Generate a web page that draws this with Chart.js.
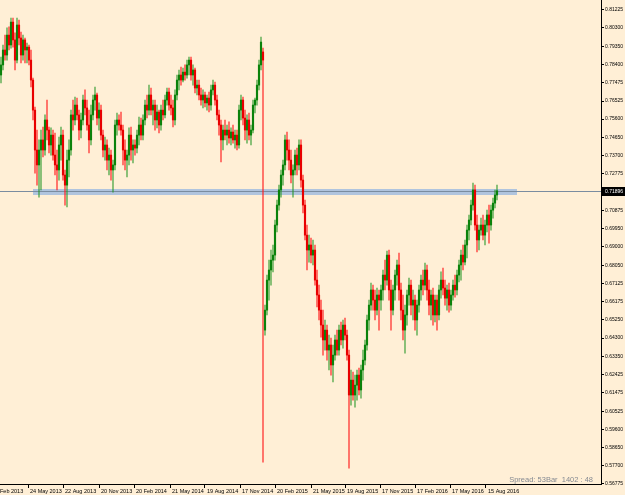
<!DOCTYPE html>
<html>
<head>
<meta charset="utf-8">
<script src="https://cdn.jsdelivr.net/npm/chart.js@4.4.1/dist/chart.umd.min.js"></script>
<style>
  html, body { margin: 0; padding: 0; background: #ffefd6; overflow: hidden; }
  canvas { display: block; }
</style>
</head>
<body>
<canvas id="myChart" width="625" height="495"></canvas>
<script>
"use strict";

// daily candles (oldest first)
const opens = [
  0.7787,0.7839,0.7916,0.7890,0.7993,0.7942,0.8060,0.7968,0.7864,0.8045,
  0.7978,0.7890,0.7968,0.7916,0.7931,0.7864,0.7761,0.7606,0.7400,0.7323,
  0.7400,0.7452,0.7400,0.7555,0.7503,0.7426,0.7477,0.7374,0.7323,0.7297,
  0.7426,0.7477,0.7271,0.7219,0.7348,0.7400,0.7581,0.7555,0.7632,0.7581,
  0.7503,0.7555,0.7658,0.7617,0.7529,0.7452,0.7581,0.7658,0.7684,0.7565,
  0.7606,0.7477,0.7400,0.7426,0.7348,0.7374,0.7297,0.7323,0.7529,0.7555,
  0.7529,0.7503,0.7400,0.7348,0.7374,0.7477,0.7400,0.7426,0.7410,0.7477,
  0.7529,0.7477,0.7555,0.7632,0.7606,0.7684,0.7606,0.7632,0.7555,0.7596,
  0.7529,0.7606,0.7581,0.7658,0.7699,0.7632,0.7617,0.7555,0.7684,0.7761,
  0.7787,0.7761,0.7802,0.7787,0.7839,0.7864,0.7787,0.7813,0.7720,0.7735,
  0.7684,0.7658,0.7684,0.7643,0.7668,0.7632,0.7710,0.7735,0.7658,0.7581,
  0.7529,0.7452,0.7503,0.7477,0.7503,0.7462,0.7493,0.7452,0.7477,0.7426,
  0.7606,0.7658,0.7565,0.7503,0.7555,0.7477,0.7503,0.7632,0.7658,0.7735,
  0.7839,0.7906,0.6471,0.6574,0.6729,0.6781,0.6832,0.6858,0.7013,0.7116,
  0.7194,0.7271,0.7323,0.7452,0.7400,0.7348,0.7271,0.7297,0.7374,0.7323,
  0.7426,0.7245,0.7116,0.6961,0.6884,0.6910,0.6858,0.6884,0.6729,0.6652,
  0.6574,0.6497,0.6420,0.6471,0.6368,0.6394,0.6291,0.6342,0.6420,0.6368,
  0.6471,0.6420,0.6497,0.6445,0.6342,0.6136,0.6213,0.6136,0.6187,0.6239,
  0.6162,0.6265,0.6316,0.6394,0.6523,0.6600,0.6678,0.6626,0.6574,0.6652,
  0.6626,0.6678,0.6755,0.6729,0.6858,0.6678,0.6574,0.6678,0.6755,0.6807,
  0.6678,0.6574,0.6471,0.6549,0.6652,0.6703,0.6600,0.6626,0.6523,0.6600,
  0.6678,0.6729,0.6703,0.6781,0.6678,0.6600,0.6652,0.6549,0.6626,0.6549,
  0.6678,0.6729,0.6688,0.6636,0.6678,0.6600,0.6652,0.6703,0.6678,0.6755,
  0.6807,0.6858,0.6822,0.6910,0.6987,0.7039,0.7116,0.7194,0.7013,0.6936,
  0.6987,0.7013,0.6961,0.7013,0.7065,0.7013,0.7090,0.7126,0.7168
];
const highs = [
  0.7880,0.7942,0.7993,0.8030,0.8035,0.8081,0.8081,0.8004,0.8081,0.8071,
  0.8009,0.7993,0.7978,0.7952,0.7942,0.7916,0.7771,0.7622,0.7503,0.7452,
  0.7503,0.7519,0.7581,0.7658,0.7519,0.7514,0.7503,0.7488,0.7400,0.7467,
  0.7519,0.7503,0.7297,0.7400,0.7452,0.7606,0.7658,0.7673,0.7668,0.7606,
  0.7591,0.7684,0.7710,0.7658,0.7606,0.7632,0.7684,0.7725,0.7694,0.7643,
  0.7632,0.7503,0.7467,0.7452,0.7410,0.7400,0.7348,0.7555,0.7591,0.7581,
  0.7596,0.7529,0.7452,0.7400,0.7514,0.7519,0.7452,0.7452,0.7503,0.7570,
  0.7565,0.7581,0.7658,0.7684,0.7735,0.7720,0.7658,0.7658,0.7632,0.7606,
  0.7632,0.7658,0.7684,0.7720,0.7720,0.7684,0.7658,0.7710,0.7787,0.7813,
  0.7828,0.7823,0.7839,0.7864,0.7880,0.7880,0.7839,0.7823,0.7761,0.7761,
  0.7720,0.7710,0.7699,0.7684,0.7699,0.7735,0.7761,0.7751,0.7684,0.7606,
  0.7555,0.7529,0.7555,0.7529,0.7545,0.7514,0.7529,0.7503,0.7503,0.7632,
  0.7684,0.7673,0.7606,0.7581,0.7591,0.7529,0.7658,0.7668,0.7761,0.7864,
  0.7983,0.7926,0.6600,0.6755,0.6832,0.6884,0.6910,0.7039,0.7142,0.7219,
  0.7297,0.7348,0.7477,0.7493,0.7452,0.7400,0.7323,0.7400,0.7410,0.7452,
  0.7452,0.7271,0.7142,0.7013,0.6961,0.6946,0.6936,0.6910,0.6781,0.6703,
  0.6626,0.6574,0.6523,0.6497,0.6445,0.6430,0.6394,0.6445,0.6471,0.6497,
  0.6513,0.6523,0.6533,0.6471,0.6368,0.6265,0.6254,0.6239,0.6265,0.6275,
  0.6291,0.6368,0.6420,0.6549,0.6626,0.6714,0.6703,0.6678,0.6688,0.6678,
  0.6703,0.6781,0.6832,0.6879,0.6884,0.6729,0.6703,0.6781,0.6832,0.6868,
  0.6714,0.6652,0.6600,0.6678,0.6740,0.6729,0.6678,0.6652,0.6626,0.6703,
  0.6755,0.6781,0.6817,0.6807,0.6729,0.6678,0.6688,0.6652,0.6652,0.6703,
  0.6771,0.6791,0.6729,0.6703,0.6714,0.6678,0.6729,0.6755,0.6781,0.6832,
  0.6884,0.6910,0.6936,0.7013,0.7065,0.7142,0.7230,0.7219,0.7065,0.7013,
  0.7049,0.7065,0.7039,0.7090,0.7116,0.7116,0.7152,0.7194,0.7219
];
const lows = [
  0.7746,0.7813,0.7864,0.7864,0.7916,0.7926,0.7931,0.7813,0.7849,0.7942,
  0.7849,0.7864,0.7849,0.7849,0.7839,0.7725,0.7555,0.7281,0.7219,0.7157,
  0.7194,0.7364,0.7374,0.7452,0.7385,0.7374,0.7348,0.7271,0.7194,0.7245,
  0.7348,0.7245,0.7116,0.7106,0.7261,0.7374,0.7503,0.7529,0.7555,0.7452,
  0.7462,0.7529,0.7581,0.7503,0.7385,0.7426,0.7555,0.7606,0.7529,0.7503,
  0.7452,0.7364,0.7348,0.7297,0.7271,0.7245,0.7183,0.7297,0.7477,0.7503,
  0.7477,0.7323,0.7297,0.7261,0.7323,0.7348,0.7333,0.7374,0.7385,0.7426,
  0.7452,0.7452,0.7529,0.7565,0.7581,0.7581,0.7529,0.7503,0.7514,0.7488,
  0.7503,0.7555,0.7565,0.7632,0.7606,0.7581,0.7519,0.7529,0.7658,0.7710,
  0.7735,0.7751,0.7761,0.7771,0.7787,0.7761,0.7735,0.7694,0.7684,0.7658,
  0.7632,0.7617,0.7622,0.7606,0.7596,0.7606,0.7684,0.7632,0.7555,0.7477,
  0.7338,0.7400,0.7452,0.7426,0.7436,0.7426,0.7436,0.7410,0.7400,0.7410,
  0.7555,0.7529,0.7452,0.7436,0.7452,0.7426,0.7488,0.7591,0.7632,0.7710,
  0.7813,0.5790,0.6445,0.6549,0.6626,0.6703,0.6771,0.6832,0.6977,0.7090,
  0.7157,0.7219,0.7297,0.7348,0.7297,0.7230,0.7157,0.7271,0.7271,0.7297,
  0.7209,0.7075,0.6936,0.6781,0.6822,0.6817,0.6807,0.6703,0.6590,0.6523,
  0.6435,0.6342,0.6368,0.6316,0.6265,0.6239,0.6203,0.6316,0.6342,0.6342,
  0.6394,0.6378,0.6420,0.6316,0.5759,0.6084,0.6110,0.6074,0.6110,0.6136,
  0.6120,0.6213,0.6291,0.6368,0.6471,0.6574,0.6574,0.6523,0.6549,0.6471,
  0.6574,0.6626,0.6678,0.6703,0.6626,0.6471,0.6549,0.6626,0.6703,0.6626,
  0.6523,0.6420,0.6352,0.6497,0.6600,0.6549,0.6523,0.6471,0.6445,0.6564,
  0.6626,0.6652,0.6678,0.6626,0.6549,0.6523,0.6497,0.6513,0.6471,0.6523,
  0.6636,0.6652,0.6600,0.6574,0.6564,0.6574,0.6626,0.6641,0.6652,0.6719,
  0.6729,0.6781,0.6807,0.6843,0.6936,0.7013,0.7090,0.6987,0.6874,0.6884,
  0.6961,0.6936,0.6910,0.6977,0.6920,0.6987,0.7049,0.7101,0.7142
];
const closes = [
  0.7839,0.7916,0.7890,0.7993,0.7942,0.8060,0.7968,0.7864,0.8045,0.7978,
  0.7890,0.7968,0.7916,0.7931,0.7864,0.7761,0.7606,0.7400,0.7323,0.7400,
  0.7452,0.7400,0.7555,0.7503,0.7426,0.7477,0.7374,0.7323,0.7297,0.7426,
  0.7477,0.7271,0.7219,0.7348,0.7400,0.7581,0.7555,0.7632,0.7581,0.7503,
  0.7555,0.7658,0.7617,0.7529,0.7452,0.7581,0.7658,0.7684,0.7565,0.7606,
  0.7477,0.7400,0.7426,0.7348,0.7374,0.7297,0.7323,0.7529,0.7555,0.7529,
  0.7503,0.7400,0.7348,0.7374,0.7477,0.7400,0.7426,0.7410,0.7477,0.7529,
  0.7477,0.7555,0.7632,0.7606,0.7684,0.7606,0.7632,0.7555,0.7596,0.7529,
  0.7606,0.7581,0.7658,0.7699,0.7632,0.7617,0.7555,0.7684,0.7761,0.7787,
  0.7761,0.7802,0.7787,0.7839,0.7864,0.7787,0.7813,0.7720,0.7735,0.7684,
  0.7658,0.7684,0.7643,0.7668,0.7632,0.7710,0.7735,0.7658,0.7581,0.7529,
  0.7452,0.7503,0.7477,0.7503,0.7462,0.7493,0.7452,0.7477,0.7426,0.7606,
  0.7658,0.7565,0.7503,0.7555,0.7477,0.7503,0.7632,0.7658,0.7735,0.7839,
  0.7957,0.7864,0.6574,0.6729,0.6781,0.6832,0.6858,0.7013,0.7116,0.7194,
  0.7271,0.7323,0.7452,0.7400,0.7348,0.7271,0.7297,0.7374,0.7323,0.7426,
  0.7245,0.7116,0.6961,0.6884,0.6910,0.6858,0.6884,0.6729,0.6652,0.6574,
  0.6497,0.6420,0.6471,0.6368,0.6394,0.6291,0.6342,0.6420,0.6368,0.6471,
  0.6420,0.6497,0.6445,0.6342,0.6136,0.6213,0.6136,0.6187,0.6239,0.6162,
  0.6265,0.6316,0.6394,0.6523,0.6600,0.6678,0.6626,0.6574,0.6652,0.6626,
  0.6678,0.6755,0.6729,0.6858,0.6678,0.6574,0.6678,0.6755,0.6807,0.6678,
  0.6574,0.6471,0.6549,0.6652,0.6703,0.6600,0.6626,0.6523,0.6600,0.6678,
  0.6729,0.6703,0.6781,0.6678,0.6600,0.6652,0.6549,0.6626,0.6549,0.6678,
  0.6729,0.6688,0.6636,0.6678,0.6600,0.6652,0.6703,0.6678,0.6755,0.6807,
  0.6858,0.6822,0.6910,0.6987,0.7039,0.7116,0.7194,0.7013,0.6936,0.6987,
  0.7013,0.6961,0.7013,0.7065,0.7013,0.7090,0.7126,0.7168,0.7190
];

// date labels along the bottom, placed at candle positions
const xTickLabels = ['Feb 2013', '24 May 2013', '22 Aug 2013', '20 Nov 2013', '20 Feb 2014',
  '21 May 2014', '19 Aug 2014', '17 Nov 2014', '20 Feb 2015', '21 May 2015', '19 Aug 2015',
  '17 Nov 2015', '17 Feb 2016', '17 May 2016', '15 Aug 2016'];
const xTickAt = [-1.5, 13.5, 31, 49, 66.5, 84.5, 102, 119.5, 137, 155, 172, 189.5, 207, 224.5, 242.5];

const yTicks = [0.81225, 0.80300, 0.79350, 0.78400, 0.77475, 0.76525, 0.75600, 0.74650, 0.73700,
  0.72775, 0.70875, 0.69950, 0.69000, 0.68050, 0.67125, 0.66175, 0.65250, 0.64300, 0.63350,
  0.62425, 0.61475, 0.60525, 0.59600, 0.58650, 0.57700, 0.56775];

const lastPrice = 0.71896;
// support zone drawn as a band
const zoneFrom = 16, zoneTo = 258;
const zoneHigh = 0.7199, zoneLow = 0.7168;
const spreadText = 'Spread: 53Bar  1402 : 48';

const bull = closes.map((c, i) => c >= opens[i]);
const bodyColors = bull.map(b => b ? '#0b820b' : '#e80000');
const wickColors = bull.map(b => b ? 'rgba(40,150,40,0.65)' : 'rgba(255,30,30,0.7)');

const backdrop = {
    id: 'backdrop',
    beforeDraw(chart) {
        const c = chart.ctx;
        c.save();
        c.fillStyle = '#ffefd6';
        c.fillRect(0, 0, chart.width, chart.height);
        c.restore();
    },
    beforeDatasetsDraw(chart) {
        const { ctx: c, chartArea: a, scales: { x, y } } = chart;
        c.save();
        const x1 = x.getPixelForValue(zoneFrom), x2 = x.getPixelForValue(zoneTo);
        const y1 = y.getPixelForValue(zoneHigh), y2 = y.getPixelForValue(zoneLow);
        c.fillStyle = '#b0c4de';
        c.fillRect(x1, y1, x2 - x1, y2 - y1);
        const py = Math.round(y.getPixelForValue(lastPrice)) + 0.5;
        c.strokeStyle = '#7a8ca0';
        c.lineWidth = 1;
        c.beginPath();
        c.moveTo(a.left, py);
        c.lineTo(a.right, py);
        c.stroke();
        c.restore();
    },
    afterDraw(chart) {
        const { ctx: c, chartArea: a, scales: { y } } = chart;
        const py = Math.round(y.getPixelForValue(lastPrice));
        c.save();
        c.fillStyle = '#000';
        c.fillRect(a.right, py - 4, 24, 9);
        c.fillStyle = '#fff';
        c.font = '5px "Liberation Sans"';
        c.textBaseline = 'middle';
        c.fillText(lastPrice.toFixed(5), a.right + 4, py + 0.5);
        c.fillStyle = '#858a92';
        c.font = '7.5px "Liberation Sans"';
        c.textAlign = 'right';
        c.textBaseline = 'alphabetic';
        c.fillText(spreadText, a.right - 8, a.bottom - 2);
        c.restore();
    }
};

const ctx = document.getElementById('myChart');

new Chart(ctx, {
    type: 'bar',
    data: {
        datasets: [{
            label: 'body',
            data: opens.map((o, i) => ({ x: i, y: [o, closes[i]] })),
            backgroundColor: bodyColors,
            barThickness: 1.5,
            grouped: false
        }, {
            label: 'wick',
            data: lows.map((l, i) => ({ x: i, y: [l, highs[i]] })),
            backgroundColor: wickColors,
            barThickness: 1,
            grouped: false
        }]
    },
    options: {
        responsive: false,
        devicePixelRatio: 1,
        animation: false,
        events: [],
        layout: { padding: 0 },
        plugins: {
            legend: { display: false },
            tooltip: { enabled: false }
        },
        scales: {
            x: {
                type: 'linear',
                min: -0.5,
                max: 300,
                offset: false,
                grid: { drawOnChartArea: false, offset: false, tickLength: 4, color: '#000' },
                border: { color: '#000' },
                ticks: {
                    autoSkip: false,
                    maxRotation: 0,
                    minRotation: 0,
                    align: 'start',
                    labelOffset: 2,
                    padding: 0,
                    color: '#000',
                    font: { family: 'Liberation Sans', size: 5.5 },
                    callback: (v, i) => xTickLabels[i]
                },
                afterBuildTicks: s => { s.ticks = xTickAt.map(v => ({ value: v })); },
                afterFit: s => { s.height = 11; s.paddingLeft = 0; s.paddingRight = 0; }
            },
            y: {
                position: 'right',
                min: 0.5677,
                max: 0.8174,
                grid: { drawOnChartArea: false, tickLength: 3, color: '#000' },
                border: { color: '#000' },
                ticks: {
                    padding: 1,
                    color: '#000',
                    font: { family: 'Liberation Sans', size: 5 },
                    callback: v => v.toFixed(5)
                },
                afterBuildTicks: s => { s.ticks = yTicks.map(v => ({ value: v })); },
                afterFit: s => { s.width = 24; s.paddingTop = 0; s.paddingBottom = 0; }
            }
        }
    },
    plugins: [backdrop]
});
</script>
</body>
</html>
